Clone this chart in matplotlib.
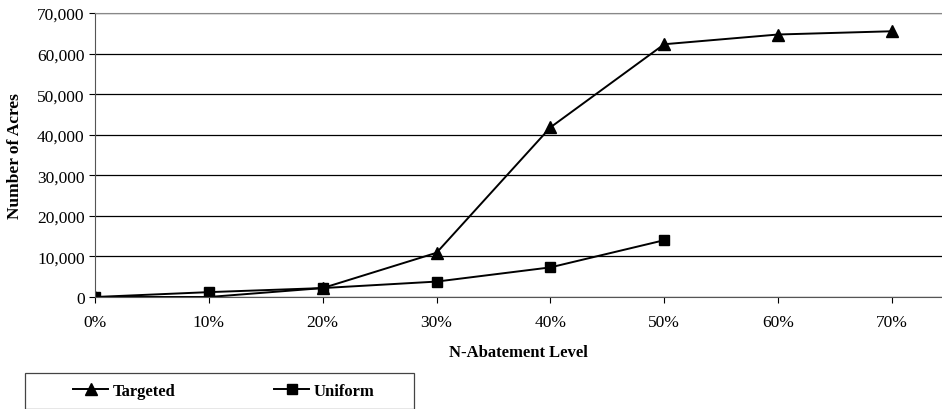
import matplotlib.pyplot as plt
from matplotlib.patches import Rectangle
from matplotlib.ticker import FuncFormatter

plt.rcParams['font.family'] = 'Liberation Serif'

# abatement levels (%)
levels = [0, 10, 20, 30, 40, 50, 60, 70]
targeted = [0, 0, 2200, 10900, 41800, 62300, 64700, 65500]
uniform_levels = [0, 10, 20, 30, 40, 50]
uniform = [0, 1200, 2200, 3800, 7300, 14000]

W, H = 942, 410
fig = plt.figure(figsize=(W / 100, H / 100), dpi=100)
ax = fig.add_axes([95 / W, 1 - 298 / H, 1 - 95 / W, 284 / H])

# horizontal gridlines
ax.yaxis.grid(True, color='black', linewidth=0.9)
ax.set_axisbelow(True)

ax.plot(levels, targeted, color='black', linewidth=1.4, marker='^',
        markersize=8, label='Targeted')
ax.plot(uniform_levels, uniform, color='black', linewidth=1.4, marker='s',
        markersize=7, label='Uniform')

ax.set_xlim(0, 74.4)
ax.set_ylim(0, 70000)
ax.set_xticks(levels)
ax.set_xticklabels([f'{v}%' for v in levels])
ax.set_yticks(range(0, 70001, 10000))
ax.yaxis.set_major_formatter(FuncFormatter(lambda v, p: f'{int(v):,}'))
ax.tick_params(axis='both', labelsize=12.5, colors='black', length=4, width=0.8)
ax.tick_params(axis='x', pad=8)

ax.spines['right'].set_visible(False)
ax.spines['top'].set_color('#888888')
ax.spines['left'].set_color('#555555')
ax.spines['bottom'].set_color('#555555')

ax.set_xlabel('N-Abatement Level', fontsize=12, fontweight='bold', labelpad=10)
ax.set_ylabel('Number of Acres', fontsize=12.5, fontweight='bold', labelpad=10)

# legend box drawn separately, entries placed inside it
fig.patches.append(Rectangle((25 / W, 0.5 / H), 389 / W, 36 / H,
                             transform=fig.transFigure, fill=False,
                             edgecolor='#444444', linewidth=0.9))
leg = fig.legend(loc='center left', bbox_to_anchor=(73 / W, 1 - 392 / H),
                 ncol=2, frameon=False, prop={'weight': 'bold', 'size': 12},
                 handlelength=2.1, handletextpad=0.3, columnspacing=5.9,
                 borderpad=0, borderaxespad=0)

fig.savefig('out.png', dpi=100)
